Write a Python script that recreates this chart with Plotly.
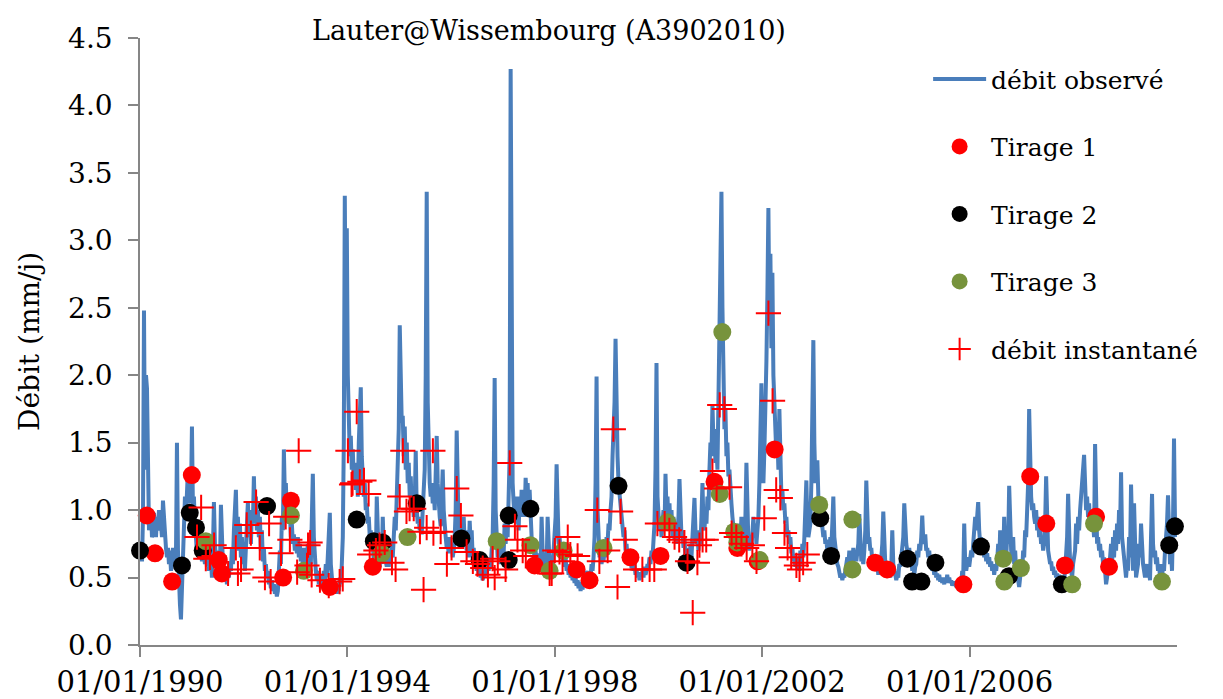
import pandas as pd
import plotly.graph_objects as go

FONT = "DejaVu Serif"
BLUE = "#4A7EBB"
RED = "#FF0000"
BLACK = "#000000"
GREEN = "#77933C"
AXIS = "#868686"

TITLE = "Lauter@Wissembourg (A3902010)"
Y_TITLE = "Débit (mm/j)"
TICK_YEARS = [1990, 1994, 1998, 2002, 2006]
TICK_LABELS = ["01/01/1990", "01/01/1994", "01/01/1998", "01/01/2002", "01/01/2006"]

# Observed discharge (mm/j), weekly samples from 1990-01-08 to 2009-12-25
q_obs = [
    0.70, 0.62, 0.95, 2.48, 1.30, 2.00, 1.90, 1.10, 0.85, 0.95,
    1.00, 0.80, 0.82, 0.98, 0.90, 0.80, 0.95, 0.85, 1.00, 0.85,
    0.90, 0.80, 1.07, 0.90, 0.85, 0.72, 0.65, 0.72, 0.60, 0.70,
    0.55, 0.60, 0.72, 0.62, 0.58, 0.65, 1.50, 0.70, 0.40, 0.30,
    0.19, 0.45, 0.60, 0.90, 1.10, 0.95, 1.12, 1.30, 1.05, 1.20,
    1.10, 1.62, 1.00, 1.10, 0.85, 0.80, 0.68, 0.75, 0.65, 0.80,
    0.70, 0.62, 0.75, 0.66, 0.60, 0.72, 0.58, 0.65, 0.55, 0.80,
    0.60, 0.50, 0.70, 1.06, 0.75, 0.60, 0.55, 0.70, 0.62, 0.55,
    1.04, 0.70, 0.60, 0.52, 0.48, 0.55, 0.45, 0.58, 0.50, 0.62,
    0.55, 0.72, 0.60, 0.85, 1.00, 1.15, 0.80, 0.95, 0.70, 0.90,
    0.65, 0.80, 0.60, 0.70, 0.55, 0.75, 0.90, 1.06, 0.80, 0.95,
    0.75, 1.00, 0.90, 1.25, 0.95, 1.10, 0.85, 1.00, 0.80, 0.95,
    0.70, 0.85, 0.62, 0.72, 0.55, 0.60, 0.50, 0.55, 0.45, 0.50,
    0.42, 0.48, 0.40, 0.45, 0.38, 0.42, 0.36, 0.40, 0.55, 0.70,
    0.60, 0.95, 0.85, 1.45, 1.10, 1.20, 0.95, 1.10, 0.90, 1.00,
    0.80, 0.90, 0.75, 0.82, 0.70, 0.78, 0.68, 0.80, 0.65, 0.75,
    0.62, 0.70, 0.60, 0.72, 0.58, 0.65, 0.62, 0.75, 0.55, 0.70,
    0.60, 1.00, 1.27, 0.80, 0.60, 0.55, 0.48, 0.55, 0.45, 0.52,
    0.42, 0.50, 0.45, 0.55, 0.48, 0.60, 0.50, 0.65, 0.75, 0.98,
    0.60, 0.50, 0.42, 0.48, 0.40, 0.45, 0.38, 0.45, 0.40, 0.50,
    0.45, 0.60, 0.80, 1.50, 3.33, 2.20, 3.09, 2.00, 1.70, 1.40,
    1.55, 1.30, 1.45, 1.20, 1.35, 1.15, 1.30, 1.10, 1.50, 1.70,
    1.91, 1.40, 1.25, 1.10, 1.20, 1.00, 1.05, 0.90, 0.95, 0.80,
    0.85, 0.70, 0.75, 0.62, 0.70, 0.60, 1.10, 0.75, 0.62, 0.58,
    0.68, 0.60, 0.95, 0.70, 0.65, 0.60, 0.58, 0.65, 0.58, 0.70,
    0.60, 0.75, 0.65, 0.80, 0.95, 0.85, 1.10, 1.30, 1.60, 2.37,
    2.00, 1.65, 1.70, 1.40, 1.62, 1.30, 1.50, 1.20, 1.35, 1.10,
    1.25, 1.00, 1.15, 0.95, 1.05, 1.44, 1.00, 0.90, 0.95, 0.85,
    0.90, 0.82, 1.00, 1.10, 1.30, 2.00, 3.36, 1.80, 1.30, 1.20,
    1.10, 1.20, 1.05, 1.15, 1.00, 1.30, 1.55, 1.20, 1.00, 0.95,
    0.88, 1.05, 1.30, 1.00, 0.85, 0.80, 0.72, 0.75, 0.68, 0.80,
    0.70, 0.75, 0.65, 0.70, 0.80, 1.00, 1.59, 1.00, 0.85, 0.80,
    0.90, 0.75, 0.80, 0.95, 0.75, 0.85, 0.70, 0.78, 0.65, 0.92,
    0.75, 0.85, 0.65, 0.72, 0.60, 0.65, 0.55, 0.60, 0.52, 0.58,
    0.50, 0.55, 0.48, 0.52, 0.50, 0.58, 0.52, 0.60, 0.55, 0.65,
    0.58, 0.70, 0.80, 1.20, 1.98, 1.00, 0.75, 0.65, 0.70, 0.60,
    0.75, 0.62, 0.80, 0.68, 0.90, 0.75, 0.95, 0.80, 1.10, 1.40,
    4.27, 2.00, 1.20, 1.05, 0.95, 1.10, 0.90, 1.00, 0.85, 1.10,
    0.95, 1.15, 1.00, 1.05, 0.95, 1.24, 1.10, 1.20, 1.00, 1.15,
    0.90, 0.80, 0.70, 0.75, 0.62, 0.70, 0.60, 0.68, 0.58, 0.65,
    0.60, 0.95, 0.70, 0.60, 0.55, 0.62, 0.58, 0.95, 0.70, 0.60,
    0.55, 0.62, 0.58, 0.70, 0.80, 0.95, 1.34, 0.90, 0.75, 0.80,
    0.68, 0.72, 0.62, 0.70, 0.58, 0.65, 0.55, 0.60, 0.52, 0.57,
    0.50, 0.55, 0.48, 0.52, 0.46, 0.50, 0.44, 0.48, 0.42, 0.47,
    0.40, 0.46, 0.41, 0.50, 0.45, 0.55, 0.48, 0.52, 0.45, 0.55,
    0.50, 0.60, 0.55, 0.65, 0.80, 1.20, 1.99, 1.00, 0.75, 0.65,
    0.70, 0.60, 0.68, 0.62, 0.72, 0.65, 0.80, 0.75, 0.90, 0.85,
    1.00, 1.10, 1.40, 1.60, 1.80, 2.27, 1.65, 1.40, 1.20, 1.10,
    1.00, 0.95, 0.90, 0.80, 0.85, 0.70, 0.75, 0.65, 0.70, 0.60,
    0.65, 0.57, 0.62, 0.55, 0.60, 0.52, 0.56, 0.50, 0.54, 0.48,
    0.53, 0.50, 0.55, 0.50, 0.58, 0.52, 0.55, 0.60, 0.57, 0.65,
    0.60, 0.70, 0.65, 0.80, 0.90, 1.30, 2.09, 1.10, 0.90, 0.85,
    0.95, 0.80, 0.90, 1.00, 0.85, 1.27, 1.00, 1.10, 0.90, 1.05,
    0.85, 1.00, 0.80, 0.95, 0.78, 0.90, 0.75, 0.85, 0.95, 1.23,
    0.90, 0.80, 0.85, 0.72, 0.80, 0.65, 0.72, 0.62, 0.70, 0.60,
    0.75, 0.65, 0.80, 0.90, 1.09, 0.85, 0.75, 0.80, 0.70, 0.85,
    0.75, 0.95, 1.20, 0.90, 0.85, 1.00, 0.90, 1.10, 1.00, 1.30,
    1.50, 1.40, 1.78, 1.50, 1.60, 1.35, 1.48, 1.30, 1.80, 2.13,
    2.60, 3.36, 2.50, 1.92, 1.60, 1.75, 1.40, 1.50, 1.25, 1.30,
    1.10, 1.05, 0.95, 0.90, 0.80, 0.85, 0.75, 0.80, 0.72, 0.90,
    0.75, 0.95, 0.80, 0.70, 0.75, 0.95, 1.35, 0.90, 0.75, 0.70,
    0.80, 0.72, 0.85, 0.95, 0.80, 0.90, 0.75, 0.85, 0.95, 1.20,
    1.50, 1.94, 1.40, 1.20, 1.45, 1.70, 2.10, 2.60, 3.24, 2.40,
    2.90, 2.20, 2.76, 2.00, 1.80, 1.60, 1.40, 1.55, 1.30, 1.75,
    1.25, 1.10, 1.15, 1.00, 1.05, 0.90, 0.95, 0.80, 0.85, 0.75,
    0.80, 0.68, 0.72, 0.62, 0.66, 0.58, 0.65, 0.56, 0.62, 0.55,
    0.70, 0.60, 0.75, 0.65, 0.80, 0.95, 1.22, 0.90, 0.80, 0.85,
    0.90, 1.20, 1.60, 2.26, 1.50, 1.20, 1.30, 1.37, 1.10, 1.00,
    0.90, 0.95, 0.85, 0.80, 0.85, 0.75, 0.78, 0.70, 0.75, 0.68,
    0.80, 0.72, 0.90, 1.10, 0.80, 0.70, 0.65, 0.60, 0.58, 0.55,
    0.50, 0.53, 0.48, 0.52, 0.50, 0.55, 0.60, 0.65, 0.58, 0.70,
    0.62, 0.68, 0.60, 0.72, 0.65, 0.70, 0.62, 0.70, 0.75, 0.97,
    0.70, 0.62, 0.65, 0.60, 0.70, 0.85, 1.22, 0.90, 0.75, 0.80,
    0.70, 0.72, 0.62, 0.65, 0.58, 0.62, 0.55, 0.60, 0.52, 0.58,
    0.60, 0.65, 0.75, 0.99, 0.72, 0.60, 0.55, 0.52, 0.50, 0.55,
    0.50, 0.58, 0.85, 0.60, 0.55, 0.50, 0.48, 0.52, 0.50, 0.60,
    0.58, 0.65, 0.75, 0.80, 1.05, 0.80, 0.75, 0.70, 0.65, 0.72,
    0.60, 0.65, 0.55, 0.62, 0.52, 0.58, 0.60, 0.70, 0.65, 0.75,
    0.70, 0.80, 0.96, 0.78, 0.75, 0.82, 0.70, 0.72, 0.65, 0.70,
    0.60, 0.62, 0.55, 0.58, 0.52, 0.55, 0.50, 0.53, 0.48, 0.52,
    0.47, 0.50, 0.46, 0.49, 0.45, 0.50, 0.46, 0.52, 0.47, 0.50,
    0.46, 0.48, 0.44, 0.47, 0.44, 0.46, 0.43, 0.45, 0.42, 0.44,
    0.42, 0.45, 0.55, 0.50, 0.90, 0.60, 0.55, 0.60, 0.65, 0.58,
    0.62, 0.70, 0.65, 0.75, 0.80, 0.95, 0.85, 1.01, 1.06, 0.85,
    0.75, 0.80, 0.70, 0.75, 0.65, 0.70, 0.62, 0.68, 0.60, 0.65,
    0.58, 0.62, 0.55, 0.60, 0.52, 0.58, 0.55, 0.62, 0.75, 0.60,
    0.85, 0.65, 0.75, 0.60, 0.95, 0.70, 0.65, 0.80, 0.75, 1.18,
    0.85, 0.70, 0.65, 0.80, 0.60, 0.70, 0.55, 0.60, 0.48, 0.43,
    0.50, 0.60, 0.55, 0.70, 0.65, 0.85, 0.80, 1.00, 1.20, 1.75,
    1.30, 1.10, 1.00, 1.05, 0.95, 0.90, 1.00, 0.85, 0.95, 0.80,
    0.85, 0.75, 0.80, 0.70, 0.75, 0.90, 1.25, 0.80, 0.70, 0.65,
    0.60, 0.62, 0.55, 0.58, 0.52, 0.55, 0.50, 0.53, 0.48, 0.52,
    0.48, 0.50, 0.47, 0.50, 0.48, 0.55, 0.65, 0.80, 1.12, 0.75,
    0.60, 0.55, 0.50, 0.60, 0.65, 0.70, 0.90, 0.75, 0.95, 0.85,
    1.00, 1.10, 1.20, 1.38, 1.41, 1.20, 1.00, 1.10, 0.95, 1.05,
    0.90, 1.00, 0.85, 0.90, 0.80, 1.49, 0.90, 0.75, 0.80, 0.70,
    0.75, 0.65, 0.70, 0.60, 0.65, 0.55, 0.45, 0.50, 0.60, 0.55,
    0.70, 0.75, 0.60, 0.80, 0.65, 0.85, 0.70, 0.90, 0.75, 1.00,
    0.85, 1.28, 0.80, 0.70, 0.60, 0.55, 0.50, 0.60, 0.55, 0.80,
    0.65, 1.19, 0.70, 0.55, 1.05, 0.65, 0.50, 0.55, 0.60, 0.75,
    0.65, 0.90, 0.70, 0.60, 0.55, 0.50, 0.55, 0.60, 0.50, 0.55,
    0.48, 0.70, 1.12, 0.75, 0.65, 0.70, 0.60, 0.65, 0.55, 0.60,
    0.50, 0.55, 0.48, 0.60, 0.55, 0.70, 0.80, 0.90, 1.11, 0.80,
    0.60, 0.70, 0.55, 0.90, 1.53, 0.90, 0.80,
]
obs_dates = pd.date_range("1990-01-08", "2009-12-25", periods=len(q_obs))

# Sampled days (decimal years) and discharge of each draw
t1_year = [1990.13, 1990.29, 1990.62, 1991.00, 1991.52, 1991.58, 1992.76, 1992.91,
           1993.66, 1994.49, 1997.61, 1998.42, 1998.67, 1999.46, 2000.04, 2001.08,
           2001.52, 2001.91, 2002.24, 2004.18, 2004.41, 2005.88, 2007.17, 2007.48,
           2007.84, 2008.44, 2008.69]
t1_q = [0.96, 0.68, 0.47, 1.26, 0.63, 0.53, 0.50, 1.07,
        0.43, 0.58, 0.59, 0.56, 0.48, 0.65, 0.66, 1.21,
        0.72, 0.62, 1.45, 0.61, 0.56, 0.45, 1.25, 0.90,
        0.59, 0.95, 0.58]

t2_year = [1990.00, 1990.81, 1990.96, 1991.08, 1991.21, 1992.45, 1994.18, 1994.51,
           1994.68, 1995.34, 1996.20, 1996.55, 1997.11, 1997.11, 1997.53, 1999.23,
           2000.54, 2003.12, 2003.33, 2004.80, 2004.89, 2005.07, 2005.34, 2006.22,
           2006.76, 2007.78, 2009.85, 2009.96]
t2_q = [0.70, 0.59, 0.98, 0.87, 0.70, 1.03, 0.93, 0.77,
        0.76, 1.05, 0.79, 0.63, 0.96, 0.63, 1.01, 1.18,
        0.61, 0.94, 0.66, 0.64, 0.47, 0.47, 0.61, 0.73,
        0.51, 0.45, 0.74, 0.88]

t3_year = [1991.27, 1992.91, 1993.16, 1994.66, 1995.16, 1996.88, 1997.53, 1997.90,
           1998.17, 1998.94, 2000.17, 2001.18, 2001.23, 2001.46, 2001.52, 2001.95,
           2003.10, 2003.74, 2003.74, 2006.65, 2006.99, 2006.67, 2007.98, 2008.40,
           2009.71]
t3_q = [0.77, 0.96, 0.55, 0.68, 0.80, 0.77, 0.74, 0.55,
        0.70, 0.72, 0.91, 1.12, 2.32, 0.84, 0.76, 0.63,
        1.04, 0.93, 0.56, 0.64, 0.57, 0.47, 0.45, 0.90,
        0.47]

# Instantaneous discharge measurements
inst_year = [1991.18, 1991.10, 1991.27, 1991.35, 1991.43, 1991.43, 1991.70, 1991.85,
             1991.89, 1991.95, 1992.06, 1992.14, 1992.24, 1992.31, 1992.41, 1992.49,
             1992.52, 1992.72, 1992.81, 1992.89, 1993.03, 1993.06, 1993.22, 1993.24,
             1993.28, 1993.31, 1993.47, 1993.64, 1993.85, 1993.91, 1994.01, 1994.08,
             1994.10, 1994.18, 1994.24, 1994.32, 1994.41, 1994.43, 1994.55, 1994.62,
             1994.72, 1994.86, 1994.93, 1995.01, 1995.07, 1995.14, 1995.20, 1995.28,
             1995.40, 1995.47, 1995.53, 1995.65, 1995.66, 1995.80, 1995.92, 1996.01,
             1996.11, 1996.19, 1996.30, 1996.42, 1996.51, 1996.61, 1996.71, 1996.80,
             1996.84, 1996.90, 1997.05, 1997.13, 1997.23, 1997.28, 1997.38, 1997.44,
             1997.90, 1998.00, 1997.94, 1998.09, 1998.15, 1998.25, 1998.30, 1998.44,
             1998.82, 1998.86, 1999.02, 1999.13, 1999.21, 1999.27, 1999.36, 1999.56,
             1999.69, 1999.83, 1999.92, 1999.98, 2000.12, 2000.21, 2000.31, 2000.40,
             2000.50, 2000.56, 2000.66, 2000.75, 2000.79, 2000.85, 2000.92, 2001.04,
             2001.12, 2001.18, 2001.27, 2001.37, 2001.41, 2001.50, 2001.60, 2001.70,
             2001.81, 2001.89, 2002.04, 2002.12, 2002.20, 2002.27, 2002.35, 2002.43,
             2002.49, 2002.56, 2002.66, 2002.72, 2002.79, 2002.87]
inst_q = [1.02, 0.80, 0.64, 0.65, 0.66, 0.74, 0.53, 0.72,
          0.53, 0.56, 0.89, 0.83, 1.06, 0.72, 0.50, 0.90,
          0.47, 0.68, 0.95, 0.78, 0.54, 1.44, 0.59, 0.74,
          0.76, 0.52, 0.48, 0.44, 0.47, 0.49, 1.44, 1.19,
          1.20, 1.73, 1.21, 1.22, 1.12, 0.67, 0.70, 0.74,
          0.76, 0.61, 0.56, 1.10, 1.44, 0.99, 1.01, 1.01,
          0.84, 0.41, 0.87, 1.44, 0.83, 0.84, 0.60, 0.72,
          1.16, 0.96, 0.69, 0.62, 0.60, 0.57, 0.52, 0.64,
          0.50, 0.62, 0.56, 1.35, 0.88, 0.78, 0.70, 0.66,
          0.53, 0.70, 0.53, 0.69, 0.62, 0.80, 0.67, 0.66,
          1.00, 0.62, 0.70, 1.60, 0.43, 0.99, 0.78, 0.56,
          0.56, 0.56, 0.56, 0.90, 0.90, 0.85, 0.80, 0.78,
          0.76, 0.62, 0.24, 0.61, 0.74, 0.78, 0.78, 1.29,
          1.16, 1.78, 1.75, 1.17, 0.83, 0.80, 0.75, 0.72,
          0.74, 0.62, 0.94, 2.46, 1.81, 1.15, 1.09, 0.83,
          0.72, 0.65, 0.59, 0.56, 0.61, 0.67]


def to_date(y):
    """Decimal year -> timestamp."""
    year = int(y)
    start = pd.Timestamp(year=year, month=1, day=1)
    end = pd.Timestamp(year=year + 1, month=1, day=1)
    return start + (end - start) * (y - year)


def dates(years):
    return [to_date(y) for y in years]


fig = go.Figure()

fig.add_trace(go.Scatter(
    x=obs_dates, y=q_obs, mode="lines", name="débit observé",
    line=dict(color=BLUE, width=4), legendgroup="obs",
))

for name, yrs, qs, col, grp in [
    ("Tirage 1", t1_year, t1_q, RED, "t1"),
    ("Tirage 2", t2_year, t2_q, BLACK, "t2"),
    ("Tirage 3", t3_year, t3_q, GREEN, "t3"),
]:
    fig.add_trace(go.Scatter(
        x=dates(yrs), y=qs, mode="markers", name=name, legendgroup=grp,
        marker=dict(symbol="circle", size=18, color=col, line=dict(width=0)),
        cliponaxis=False,
    ))

fig.add_trace(go.Scatter(
    x=dates(inst_year), y=inst_q, mode="markers", name="débit instantané",
    legendgroup="inst",
    marker=dict(symbol="cross-thin", size=18, color=RED, line=dict(width=2, color=RED)),
    cliponaxis=False,
))

tick_dates = [pd.Timestamp(year=y, month=1, day=1) for y in TICK_YEARS]

fig.update_layout(
    width=1223, height=699,
    margin=dict(l=140, r=46, t=38, b=54),
    paper_bgcolor="white", plot_bgcolor="white",
    font=dict(family=FONT, color="black", size=25),
    showlegend=True,
    legend=dict(
        x=0.76, y=0.97, xanchor="left", yanchor="top",
        bgcolor="rgba(0,0,0,0)", borderwidth=0,
        font=dict(family=FONT, size=25, color="black"),
        itemwidth=53, tracegroupgap=32, traceorder="grouped",
    ),
    xaxis=dict(
        type="date", range=["1990-01-01", "2010-01-01"],
        tickmode="array", tickvals=tick_dates, ticktext=TICK_LABELS,
        ticks="outside", ticklen=10, tickcolor=AXIS, tickwidth=1.5,
        showline=True, linecolor=AXIS, linewidth=1.5,
        showgrid=False, zeroline=False, automargin=False,
        ticklabelstandoff=0,
        tickfont=dict(family=FONT, size=29, color="black"),
    ),
    yaxis=dict(
        range=[0, 4.5], tickmode="array",
        tickvals=[0, 0.5, 1, 1.5, 2, 2.5, 3, 3.5, 4, 4.5],
        tickformat=".1f",
        ticks="outside", ticklen=10, tickcolor=AXIS, tickwidth=1.5,
        showline=True, linecolor=AXIS, linewidth=1.5,
        showgrid=False, zeroline=False, automargin=False,
        ticklabelstandoff=10,
        tickfont=dict(family=FONT, size=28, color="black"),
        title=dict(text=Y_TITLE, font=dict(family=FONT, size=28, color="black"), standoff=20),
    ),
    annotations=[dict(
        text=TITLE, xref="paper", yref="paper", x=0.394, y=1.013,
        xanchor="center", yanchor="middle", showarrow=False,
        font=dict(family=FONT, size=27, color="black"),
    )],
)

fig.write_html("out.html")
